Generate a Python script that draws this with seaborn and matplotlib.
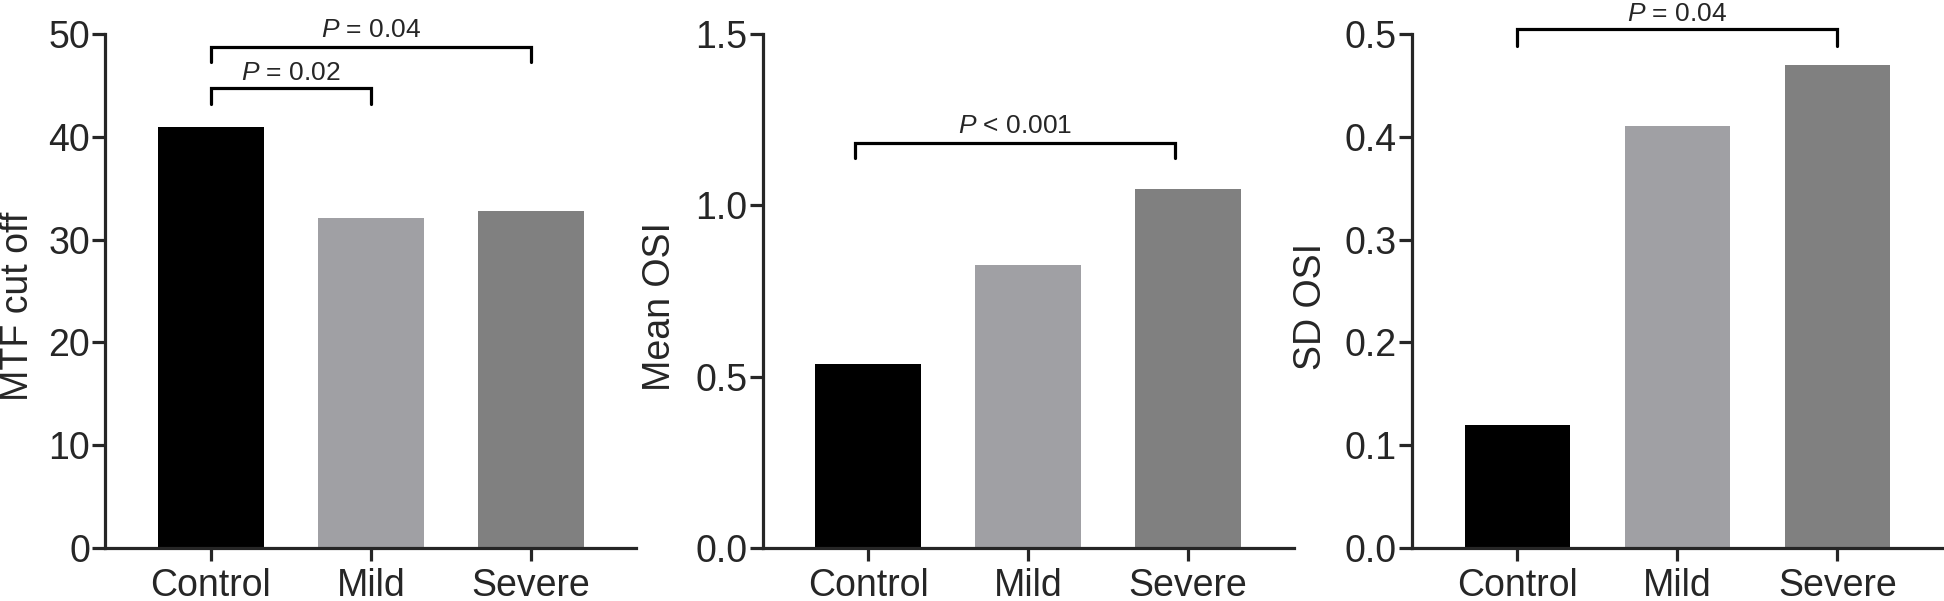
import matplotlib
matplotlib.use("Agg")
import matplotlib.pyplot as plt
import seaborn as sns
import pandas as pd

groups = ["Control", "Mild", "Severe"]
mtf_cutoff = [40.9, 32.05, 32.8]
mean_osi = [0.537, 0.826, 1.047]
sd_osi = [0.12, 0.41, 0.47]
bar_colors = ["#000000", "#a0a0a4", "#808080"]

ylabels = ["MTF cut off", "Mean OSI", "SD OSI"]
yticks = [[0, 10, 20, 30, 40, 50], [0.0, 0.5, 1.0, 1.5], [0.0, 0.1, 0.2, 0.3, 0.4, 0.5]]
tick_fmt = ["{:.0f}", "{:.1f}", "{:.1f}"]

# brackets: (from, to, bar height, tip height, label, label baseline)
brackets = [
    [(0, 1, 44.7, 43.2, "$P$ = 0.02", 45.5), (0, 2, 48.75, 47.3, "$P$ = 0.04", 49.7)],
    [(-0.08, 1.92, 1.182, 1.137, "$P$ < 0.001", 1.21)],
    [(0, 2, 0.505, 0.488, "$P$ = 0.04", 0.512)],
]

sns.set_style("ticks")
plt.rcParams["font.family"] = ["Liberation Sans", "DejaVu Sans"]
plt.rcParams["mathtext.fontset"] = "custom"
plt.rcParams["mathtext.rm"] = "Liberation Sans"
plt.rcParams["mathtext.it"] = "Liberation Sans:italic"

fig = plt.figure(figsize=(19.44, 6.01), dpi=100)
lefts = [0.0542, 0.3923, 0.7263]
label_x = [-0.13, -0.159, -0.156]
lw = 2.3

for i, vals in enumerate([mtf_cutoff, mean_osi, sd_osi]):
    ax = fig.add_axes([lefts[i], 0.0877, 0.2731, 0.8562])
    df = pd.DataFrame({"group": groups, "value": vals})
    sns.barplot(data=df, x="group", y="value", hue="group", palette=bar_colors,
                saturation=1, width=0.66, linewidth=0, legend=False, ax=ax)
    ax.set_xlim(-0.66, 2.66)
    ax.set_ylim(yticks[i][0], yticks[i][-1])
    ax.set_yticks(yticks[i])
    ax.set_yticklabels([tick_fmt[i].format(t) for t in yticks[i]])
    sns.despine(ax=ax)
    for s in ["left", "bottom"]:
        ax.spines[s].set_linewidth(lw)
    ax.tick_params(axis="both", direction="out", length=9.5, width=lw, labelsize=27)
    ax.tick_params(axis="y", pad=1.5)
    ax.tick_params(axis="x", pad=4.5)
    ax.set_xlabel("")
    ax.set_ylabel(ylabels[i], fontsize=27)
    ax.yaxis.set_label_coords(label_x[i], 0.47)

    for x0, x1, h, tip, txt, ty in brackets[i]:
        ax.plot([x0, x0, x1, x1], [tip, h, h, tip], color="black", lw=lw,
                clip_on=False, solid_joinstyle="miter")
        ax.text((x0 + x1) / 2, ty, txt, ha="center", va="baseline", fontsize=19,
                clip_on=False)

fig.savefig("out.png", dpi=100)
